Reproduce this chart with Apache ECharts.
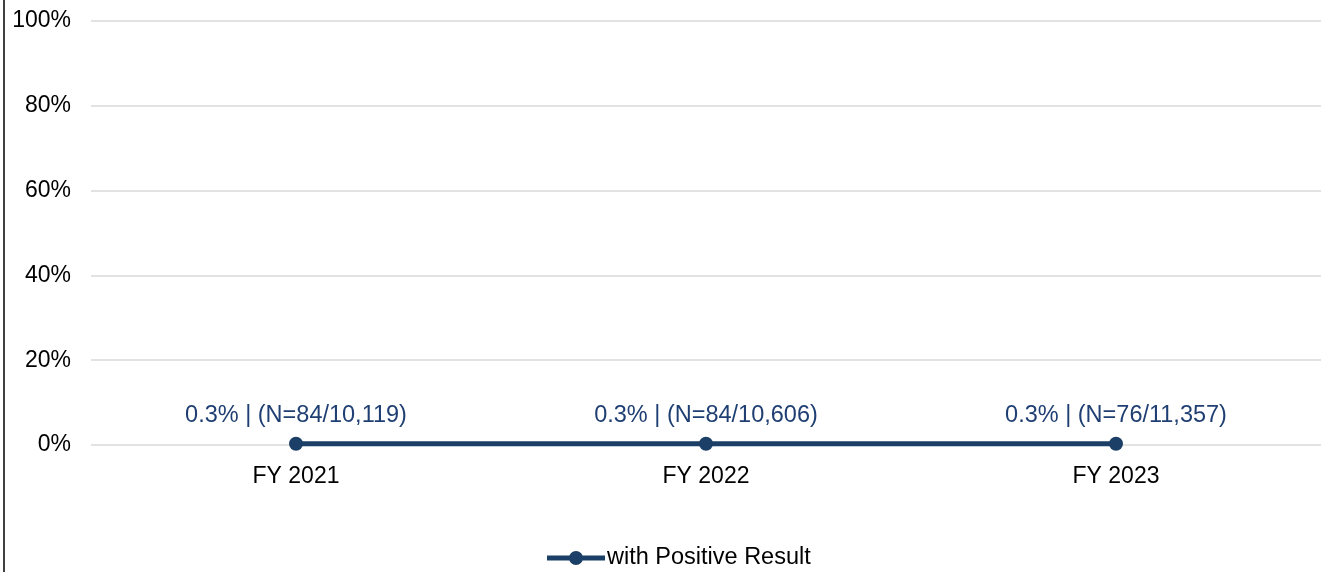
<!DOCTYPE html>
<html>
<head>
<meta charset="utf-8">
<script src="https://cdn.jsdelivr.net/npm/echarts@6/dist/echarts.min.js"></script>
<style>html,body{margin:0;padding:0;background:#fff;}#c{width:1325px;height:572px;}</style>
</head>
<body>
<div id="c"></div>
<script>
const categories = ["FY 2021", "FY 2022", "FY 2023"];
const values = [0.3, 0.3, 0.3];
const counts = ["84/10,119", "84/10,606", "76/11,357"];
const yTicks = [0, 20, 40, 60, 80, 100];
const seriesName = "with Positive Result";

const chart = echarts.init(document.getElementById('c'));
const font = 'Liberation Sans, Arial, sans-serif';
chart.setOption({
  animation: false,
  graphic: [{
    type: 'line', shape: {x1: 4, y1: 0, x2: 4, y2: 572},
    style: {stroke: '#000', lineWidth: 1.5}
  }],
  grid: {left: 91, right: 4, top: 21, bottom: 127, containLabel: false},
  legend: {
    data: [seriesName], bottom: 2, left: 547, padding: 0,
    itemWidth: 58, itemHeight: 14,
    icon: 'path://M0,4.5L58,4.5L58,9.5L0,9.5Z M22,7A7,7,0,1,1,36,7A7,7,0,1,1,22,7Z',
    itemStyle: {color: '#1b3f66'},
    textStyle: {fontFamily: font, fontSize: 23.5, color: '#000', padding: [0, 0, 0, -3]},
    itemGap: 0
  },
  xAxis: {
    type: 'category', data: categories, boundaryGap: true,
    axisLine: {show: false}, axisTick: {show: false},
    axisLabel: {fontFamily: font, fontSize: 23, color: '#000', margin: 20}
  },
  yAxis: {
    type: 'value', min: 0, max: 100, interval: 20,
    axisLine: {show: false}, axisTick: {show: false},
    splitLine: {lineStyle: {color: '#d9d9d9', width: 1.5}},
    axisLabel: {fontFamily: font, fontSize: 23, color: '#000', margin: 20,
      formatter: v => yTicks.includes(v) ? v + '%' : ''}
  },
  series: [{
    name: seriesName, type: 'line', data: values,
    symbol: 'circle', symbolSize: 14,
    lineStyle: {color: '#1b3f66', width: 5},
    itemStyle: {color: '#1b3f66'},
    label: {
      show: true, position: 'top', distance: 9,
      fontFamily: font, fontSize: 23.5, color: '#1f3f73',
      formatter: p => p.value + '% | (N=' + counts[p.dataIndex] + ')'
    }
  }]
});
</script>
</body>
</html>
